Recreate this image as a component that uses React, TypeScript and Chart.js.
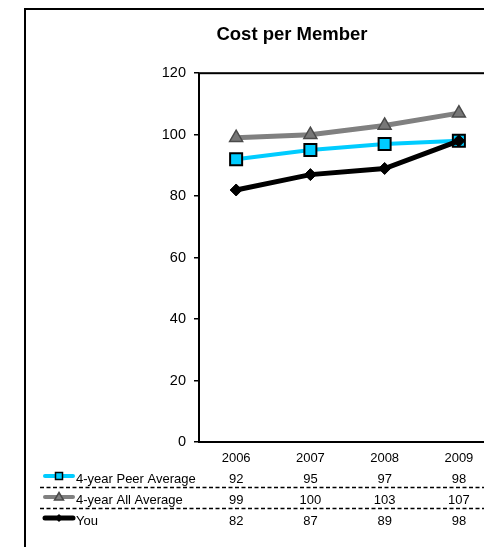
import React, { useEffect, useRef } from "react";
import { Chart, registerables } from "chart.js";

Chart.register(...registerables);

// Chart data
const years = ["2006", "2007", "2008", "2009"];
const seriesNames = ["4-year Peer Average", "4-year All Average", "You"];
const peerAverage = [92, 95, 97, 98];
const allAverage = [99, 100, 103, 107];
const youValues = [82, 87, 89, 98];
const yMin = 0;
const yMax = 120;
const yStep = 20;

const W = 520;
const H = 580;
const FONT = "'Liberation Sans', Arial, Helvetica, sans-serif";

const CYAN = "#00CCFF";
const GREY = "#808080";
const GREY_DARK = "#4a4a4a";

// left edge of the layout box, so the title centres over the frame
const PAD_LEFT = 88;
const PLOT_LEFT = 199;
const PLOT_RIGHT = 496;
const PLOT_BOTTOM = 442;

type RowStyle = {
  line: string;
  lineWidth: number;
  marker: "square" | "triangle" | "diamond";
};

const rowStyles: RowStyle[] = [
  { line: CYAN, lineWidth: 4, marker: "square" },
  { line: GREY, lineWidth: 4, marker: "triangle" },
  { line: "#000000", lineWidth: 5, marker: "diamond" },
];

// Frame, plot-area border and the data table under the axis
const tablePlugin = {
  id: "frameAndTable",
  beforeDraw(chart: any) {
    const ctx = chart.ctx as CanvasRenderingContext2D;
    ctx.save();
    ctx.fillStyle = "#ffffff";
    ctx.fillRect(0, 0, W, H);
    ctx.strokeStyle = "#000000";
    ctx.lineWidth = 2;
    ctx.strokeRect(25, 9, W - 31, H - 15);
    ctx.restore();
  },
  afterDraw(chart: any) {
    const ctx = chart.ctx as CanvasRenderingContext2D;
    const area = chart.chartArea;
    const xScale = chart.scales.x;
    ctx.save();

    // plot area border
    ctx.strokeStyle = "#000000";
    ctx.lineWidth = 2;
    ctx.strokeRect(area.left, area.top, area.right - area.left, area.bottom - area.top);

    const rows = [peerAverage, allAverage, youValues];
    const rowY = [479, 500, 521];
    const sepY = [487.5, 508.5];

    // dashed row separators
    ctx.strokeStyle = "#000000";
    ctx.lineWidth = 1.5;
    ctx.setLineDash([4, 2.5]);
    sepY.forEach((y) => {
      ctx.beginPath();
      ctx.moveTo(40, y);
      ctx.lineTo(W, y);
      ctx.stroke();
    });
    ctx.setLineDash([]);

    ctx.font = `13px ${FONT}`;
    ctx.textBaseline = "middle";

    rows.forEach((vals, i) => {
      const y = rowY[i];
      const st = rowStyles[i];
      const my = y - 3;
      // legend key line
      ctx.strokeStyle = st.line;
      ctx.lineWidth = st.lineWidth;
      ctx.lineCap = "round";
      ctx.beginPath();
      ctx.moveTo(45, my);
      ctx.lineTo(73, my);
      ctx.stroke();
      ctx.lineCap = "butt";
      // legend key marker
      const cx = 59;
      if (st.marker === "square") {
        ctx.fillStyle = CYAN;
        ctx.fillRect(cx - 3.5, my - 3.5, 7, 7);
        ctx.strokeStyle = "#000000";
        ctx.lineWidth = 1.5;
        ctx.strokeRect(cx - 3.5, my - 3.5, 7, 7);
      } else if (st.marker === "triangle") {
        ctx.fillStyle = GREY;
        ctx.strokeStyle = GREY_DARK;
        ctx.lineWidth = 1.5;
        ctx.beginPath();
        ctx.moveTo(cx, my - 4.5);
        ctx.lineTo(cx + 4.5, my + 3);
        ctx.lineTo(cx - 4.5, my + 3);
        ctx.closePath();
        ctx.fill();
        ctx.stroke();
      } else {
        ctx.fillStyle = "#000000";
        ctx.beginPath();
        ctx.moveTo(cx, my - 4);
        ctx.lineTo(cx + 4, my);
        ctx.lineTo(cx, my + 4);
        ctx.lineTo(cx - 4, my);
        ctx.closePath();
        ctx.fill();
      }
      // legend text
      ctx.fillStyle = "#000000";
      ctx.textAlign = "left";
      ctx.fillText(seriesNames[i], 76, y);
      // values
      ctx.textAlign = "center";
      vals.forEach((v, j) => {
        ctx.fillText(String(v), xScale.getPixelForValue(j), y);
      });
    });

    ctx.restore();
  },
};

export default function App() {
  const canvasRef = useRef<HTMLCanvasElement | null>(null);

  useEffect(() => {
    const canvas = canvasRef.current;
    if (!canvas) return;
    const chart = new Chart(canvas, {
      type: "line",
      data: {
        labels: years,
        datasets: [
          {
            label: seriesNames[0],
            data: peerAverage,
            borderColor: CYAN,
            borderWidth: 4,
            pointStyle: "rect",
            pointRadius: 8.5,
            pointBackgroundColor: CYAN,
            pointBorderColor: "#000000",
            pointBorderWidth: 2,
            tension: 0,
            order: 1,
          },
          {
            label: seriesNames[1],
            data: allAverage,
            borderColor: GREY,
            borderWidth: 5,
            pointStyle: "triangle",
            pointRadius: 7.5,
            pointBackgroundColor: "#777777",
            pointBorderColor: GREY_DARK,
            pointBorderWidth: 1.5,
            tension: 0,
            order: 2,
          },
          {
            label: seriesNames[2],
            data: youValues,
            borderColor: "#000000",
            borderWidth: 5,
            pointStyle: "rectRot",
            pointRadius: 6,
            pointBackgroundColor: "#000000",
            pointBorderColor: "#000000",
            pointBorderWidth: 1,
            tension: 0,
            order: 0,
          },
        ],
      },
      options: {
        responsive: false,
        animation: false,
        devicePixelRatio: 1,
        layout: { padding: { top: 14, left: PAD_LEFT, right: W - PLOT_RIGHT, bottom: 0 } },
        plugins: {
          legend: { display: false },
          tooltip: { enabled: false },
          title: {
            display: true,
            text: "Cost per Member",
            color: "#000000",
            font: { family: FONT, size: 18.5, weight: "bold", lineHeight: 1.2 },
            padding: { top: 10, bottom: 27 },
          },
        },
        scales: {
          x: {
            offset: true,
            grid: { display: false },
            border: { display: false },
            ticks: {
              color: "#000000",
              padding: 1,
              font: { family: FONT, size: 13 },
              maxRotation: 0,
            },
            afterFit: (scale: any) => {
              scale.height = H - PLOT_BOTTOM;
            },
          },
          y: {
            min: yMin,
            max: yMax,
            border: { display: false },
            grid: {
              drawOnChartArea: false,
              drawTicks: true,
              tickLength: 5,
              color: "#000000",
              lineWidth: 1.5,
            },
            ticks: {
              stepSize: yStep,
              color: "#000000",
              padding: 8,
              font: { family: FONT, size: 14.5 },
            },
            afterFit: (scale: any) => {
              scale.width = PLOT_LEFT - PAD_LEFT;
            },
          },
        },
      },
      plugins: [tablePlugin],
    });
    return () => chart.destroy();
  }, []);

  return (
    <div
      style={{
        position: "fixed",
        left: 0,
        top: 0,
        width: 484,
        height: 547,
        overflow: "hidden",
        background: "#ffffff",
      }}
    >
      <canvas ref={canvasRef} width={W} height={H} style={{ display: "block" }} />
    </div>
  );
}
